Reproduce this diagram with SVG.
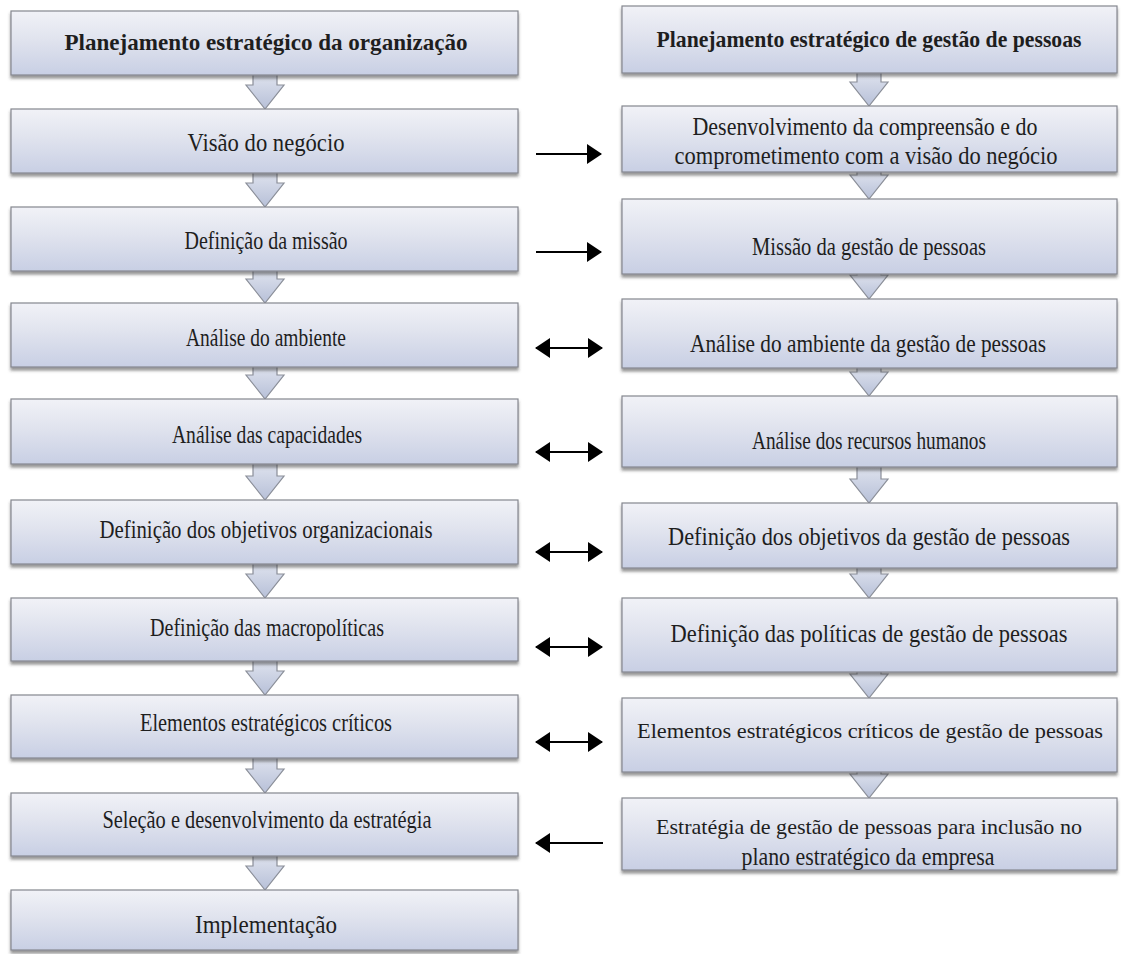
<svg xmlns="http://www.w3.org/2000/svg" width="1127" height="954" viewBox="0 0 1127 954">
  <defs>
    <linearGradient id="boxFill" x1="0" y1="0" x2="0" y2="1">
      <stop offset="0" stop-color="#f1f2f7"/>
      <stop offset="0.45" stop-color="#e0e3ee"/>
      <stop offset="1" stop-color="#c8cfe4"/>
    </linearGradient>
    <linearGradient id="arrowFill" x1="0" y1="0" x2="0" y2="1">
      <stop offset="0" stop-color="#dfe3ee"/>
      <stop offset="1" stop-color="#b7c0d8"/>
    </linearGradient>
    <filter id="shadow" x="-5%" y="-20%" width="110%" height="150%">
      <feDropShadow dx="0" dy="3" stdDeviation="1.6" flood-color="#3a3a3a" flood-opacity="0.55"/>
    </filter>
    <marker id="head" viewBox="0 0 15 20" refX="14" refY="10" markerWidth="15" markerHeight="20" markerUnits="userSpaceOnUse" orient="auto-start-reverse">
      <path d="M0,0 L15,10 L0,20 Z" fill="#000"/>
    </marker>
  </defs>
  <style>
    .box { fill: url(#boxFill); stroke: #85878f; stroke-width: 1.2; filter: url(#shadow); }
    .lbl { font-family: "Liberation Serif", "DejaVu Serif", serif; font-size: 25px; fill: #1e1e1e; text-anchor: middle; }
    .ttl { font-weight: bold; font-size: 24px; }
    .long { font-size: 22px; }
    .down { fill: url(#arrowFill); stroke: #8a8e98; stroke-width: 1.2; stroke-linejoin: miter; }
    .link { stroke: #000; stroke-width: 2.2; fill: none; }
  </style>

  <rect width="1127" height="954" fill="#ffffff"/>

  <!-- connectors: block arrows down each column, plain arrows between columns -->
  <g id="connectors">
    <!-- left column -->
    <path class="down" d="M253,74 H277 V85 H284 L265,109 L246,85 H253 Z"/>
    <path class="down" d="M253,172 H277 V183 H284 L265,207 L246,183 H253 Z"/>
    <path class="down" d="M253,270 H277 V279 H284 L265,303 L246,279 H253 Z"/>
    <path class="down" d="M253,366 H277 V375 H284 L265,399 L246,375 H253 Z"/>
    <path class="down" d="M253,463 H277 V476 H284 L265,500 L246,476 H253 Z"/>
    <path class="down" d="M253,563 H277 V574 H284 L265,598 L246,574 H253 Z"/>
    <path class="down" d="M253,660 H277 V671 H284 L265,695 L246,671 H253 Z"/>
    <path class="down" d="M253,757 H277 V769 H284 L265,793 L246,769 H253 Z"/>
    <path class="down" d="M253,855 H277 V866 H284 L265,890 L246,866 H253 Z"/>
    <!-- right column -->
    <path class="down" d="M857,72 H881 V82 H888 L869,106 L850,82 H857 Z"/>
    <path class="down" d="M857,171 H881 V175 H888 L869,199 L850,175 H857 Z"/>
    <path class="down" d="M857,273 H881 V275 H888 L869,299 L850,275 H857 Z"/>
    <path class="down" d="M857,367 H881 V372 H888 L869,396 L850,372 H857 Z"/>
    <path class="down" d="M857,466 H881 V479 H888 L869,503 L850,479 H857 Z"/>
    <path class="down" d="M857,567 H881 V574 H888 L869,598 L850,574 H857 Z"/>
    <path class="down" d="M857,671 H881 V674 H888 L869,698 L850,674 H857 Z"/>
    <path class="down" d="M857,771 H881 V774 H888 L869,798 L850,774 H857 Z"/>
    <!-- between columns -->
    <line class="link" x1="536" y1="154" x2="601" y2="154" marker-end="url(#head)"/>
    <line class="link" x1="536" y1="252" x2="601" y2="252" marker-end="url(#head)"/>
    <line class="link" x1="536" y1="348" x2="602" y2="348" marker-start="url(#head)" marker-end="url(#head)"/>
    <line class="link" x1="536" y1="452" x2="602" y2="452" marker-start="url(#head)" marker-end="url(#head)"/>
    <line class="link" x1="536" y1="552" x2="602" y2="552" marker-start="url(#head)" marker-end="url(#head)"/>
    <line class="link" x1="536" y1="647" x2="602" y2="647" marker-start="url(#head)" marker-end="url(#head)"/>
    <line class="link" x1="536" y1="742" x2="602" y2="742" marker-start="url(#head)" marker-end="url(#head)"/>
    <line class="link" x1="603" y1="843" x2="536" y2="843" marker-end="url(#head)"/>
  </g>

  <!-- left column: organisation planning -->
  <g id="org-planejamento">
    <rect class="box" x="11" y="11" width="507" height="64"/>
    <text class="lbl ttl" x="266" y="50" textLength="403" lengthAdjust="spacingAndGlyphs">Planejamento estratégico da organização</text>
  </g>
  <g id="org-visao">
    <rect class="box" x="11" y="109" width="507" height="64"/>
    <text class="lbl" x="266" y="151" textLength="157" lengthAdjust="spacingAndGlyphs">Visão do negócio</text>
  </g>
  <g id="org-missao">
    <rect class="box" x="11" y="207" width="507" height="64"/>
    <text class="lbl" x="266" y="249" textLength="163" lengthAdjust="spacingAndGlyphs">Definição da missão</text>
  </g>
  <g id="org-ambiente">
    <rect class="box" x="11" y="303" width="507" height="64"/>
    <text class="lbl" x="266" y="346" textLength="160" lengthAdjust="spacingAndGlyphs">Análise do ambiente</text>
  </g>
  <g id="org-capacidades">
    <rect class="box" x="11" y="399" width="507" height="65"/>
    <text class="lbl" x="267" y="443" textLength="190" lengthAdjust="spacingAndGlyphs">Análise das capacidades</text>
  </g>
  <g id="org-objetivos">
    <rect class="box" x="11" y="500" width="507" height="64"/>
    <text class="lbl" x="266" y="538" textLength="333" lengthAdjust="spacingAndGlyphs">Definição dos objetivos organizacionais</text>
  </g>
  <g id="org-macropoliticas">
    <rect class="box" x="11" y="598" width="507" height="63"/>
    <text class="lbl" x="267" y="636" textLength="234" lengthAdjust="spacingAndGlyphs">Definição das macropolíticas</text>
  </g>
  <g id="org-elementos">
    <rect class="box" x="11" y="695" width="507" height="63"/>
    <text class="lbl" x="266" y="731" textLength="252" lengthAdjust="spacingAndGlyphs">Elementos estratégicos críticos</text>
  </g>
  <g id="org-estrategia">
    <rect class="box" x="11" y="793" width="507" height="63"/>
    <text class="lbl" x="267" y="828" textLength="329" lengthAdjust="spacingAndGlyphs">Seleção e desenvolvimento da estratégia</text>
  </g>
  <g id="org-implementacao">
    <rect class="box" x="11" y="890" width="507" height="60"/>
    <text class="lbl" x="266" y="933" textLength="142" lengthAdjust="spacingAndGlyphs">Implementação</text>
  </g>

  <!-- right column: people management planning -->
  <g id="gp-planejamento">
    <rect class="box" x="622" y="6" width="495" height="67"/>
    <text class="lbl ttl" x="869" y="47" textLength="425" lengthAdjust="spacingAndGlyphs">Planejamento estratégico de gestão de pessoas</text>
  </g>
  <g id="gp-compreensao">
    <rect class="box" x="622" y="106" width="495" height="66"/>
    <text class="lbl" x="865" y="135" textLength="345" lengthAdjust="spacingAndGlyphs">Desenvolvimento da compreensão e do</text>
    <text class="lbl" x="866" y="164" textLength="383" lengthAdjust="spacingAndGlyphs">comprometimento com a visão do negócio</text>
  </g>
  <g id="gp-missao">
    <rect class="box" x="622" y="199" width="495" height="75"/>
    <text class="lbl" x="869" y="255" textLength="234" lengthAdjust="spacingAndGlyphs">Missão da gestão de pessoas</text>
  </g>
  <g id="gp-ambiente">
    <rect class="box" x="622" y="299" width="495" height="69"/>
    <text class="lbl" x="868" y="352" textLength="356" lengthAdjust="spacingAndGlyphs">Análise do ambiente da gestão de pessoas</text>
  </g>
  <g id="gp-recursos">
    <rect class="box" x="622" y="396" width="495" height="71"/>
    <text class="lbl" x="869" y="449" textLength="234" lengthAdjust="spacingAndGlyphs">Análise dos recursos humanos</text>
  </g>
  <g id="gp-objetivos">
    <rect class="box" x="622" y="503" width="495" height="65"/>
    <text class="lbl" x="869" y="545" textLength="402" lengthAdjust="spacingAndGlyphs">Definição dos objetivos da gestão de pessoas</text>
  </g>
  <g id="gp-politicas">
    <rect class="box" x="622" y="598" width="495" height="74"/>
    <text class="lbl" x="869" y="642" textLength="397" lengthAdjust="spacingAndGlyphs">Definição das políticas de gestão de pessoas</text>
  </g>
  <g id="gp-elementos">
    <rect class="box" x="622" y="698" width="495" height="74"/>
    <text class="lbl long" x="870" y="738" textLength="466" lengthAdjust="spacingAndGlyphs">Elementos estratégicos críticos de gestão de pessoas</text>
  </g>
  <g id="gp-estrategia">
    <rect class="box" x="622" y="798" width="495" height="72"/>
    <text class="lbl long" x="869" y="834" textLength="426" lengthAdjust="spacingAndGlyphs">Estratégia de gestão de pessoas para inclusão no</text>
    <text class="lbl" x="868" y="865" textLength="253" lengthAdjust="spacingAndGlyphs">plano estratégico da empresa</text>
  </g>
</svg>
